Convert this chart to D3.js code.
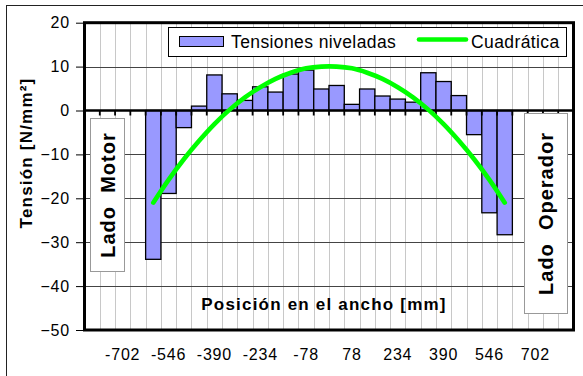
<!DOCTYPE html>
<html>
<head>
<meta charset="utf-8">
<script src="https://cdn.jsdelivr.net/npm/d3@7"></script>
<style>
	html, body { margin: 0; padding: 0; background: #fff; }
	svg { display: block; }
	text { font-family: "Liberation Sans", Arial, sans-serif; fill: #000; }
</style>
</head>
<body>
<div id="chart"></div>
<script>
// categorias del eje (centro de cada franja de 52 mm)
const posiciones = [-806, -754, -702, -650, -598, -546, -494, -442, -390, -338, -286, -234, -182, -130, -78, -26,
	26, 78, 130, 182, 234, 286, 338, 390, 442, 494, 546, 598, 650, 702, 754, 806]

// posiciones con medida
const posBarras = [-598, -546, -494, -442, -390, -338, -286, -234, -182, -130, -78, -26,
	26, 78, 130, 182, 234, 286, 338, 390, 442, 494, 546, 598]

const tensiones = [-33.9, -18.9, -3.9, 1.0, 8.1, 3.8, 2.3, 5.4, 4.2, 8.3, 9.2, 4.9,
	5.7, 1.4, 4.9, 3.3, 2.6, 1.9, 8.6, 6.6, 3.4, -5.5, -23.3, -28.3]

const cuadratica = [-21.0, -15.8, -11.1, -6.9, -3.1, 0.2, 3.0, 5.3, 7.2, 8.6, 9.6, 10.0,
	10.0, 9.6, 8.6, 7.2, 5.3, 3.0, 0.2, -3.1, -6.9, -11.1, -15.8, -21.0]

const etiquetasX = [-702, -546, -390, -234, -78, 78, 234, 390, 546, 702]
const ticksY = [20, 10, 0, -10, -20, -30, -40, -50]

const width = 583
const height = 376
const plot = {left: 84.5, right: 573.5, top: 22.7, bottom: 330}

const svg = d3.select('#chart').append('svg')
	.attr('width', width)
	.attr('height', height)

svg.append('rect').attr('width', width).attr('height', height).attr('fill', '#fff')

// marco exterior
svg.append('rect')
	.attr('x', 6.5).attr('y', 5.5)
	.attr('width', 600).attr('height', 400)
	.attr('fill', 'none').attr('stroke', '#222').attr('stroke-width', 1)

const x = d3.scaleBand()
	.domain(posiciones)
	.range([plot.left, plot.right])
	.paddingInner(0)
	.paddingOuter(0)

const y = d3.scaleLinear()
	.domain([-50, 20])
	.range([plot.bottom, plot.top])

const bw = x.bandwidth()

// rejilla vertical (limites de categoria)
svg.append('g')
	.selectAll('line')
	.data(posiciones.slice(1))
	.join('line')
	.attr('x1', d => Math.round(x(d)) + 0.5)
	.attr('x2', d => Math.round(x(d)) + 0.5)
	.attr('y1', plot.top)
	.attr('y2', plot.bottom)
	.attr('stroke', '#c8c8c8')
	.attr('stroke-width', 1)

// rejilla horizontal
svg.append('g')
	.selectAll('line')
	.data(ticksY.filter(d => d !== 20 && d !== -50 && d !== 0))
	.join('line')
	.attr('x1', plot.left)
	.attr('x2', plot.right)
	.attr('y1', d => Math.round(y(d)) + 0.5)
	.attr('y2', d => Math.round(y(d)) + 0.5)
	.attr('stroke', '#444')
	.attr('stroke-width', 1)

// barras
svg.append('g')
	.selectAll('rect')
	.data(tensiones)
	.join('rect')
	.attr('x', (d, i) => x(posBarras[i]))
	.attr('width', bw)
	.attr('y', d => y(Math.max(0, d)))
	.attr('height', d => Math.abs(y(d) - y(0)))
	.attr('fill', '#9999ff')
	.attr('stroke', '#000')
	.attr('stroke-width', 1.3)

// eje de categorias en 0 con marcas
svg.append('g')
	.selectAll('line')
	.data(posiciones.slice(1))
	.join('line')
	.attr('x1', d => x(d))
	.attr('x2', d => x(d))
	.attr('y1', y(0))
	.attr('y2', y(0) + 5)
	.attr('stroke', '#000')
	.attr('stroke-width', 1.8)

svg.append('line')
	.attr('x1', plot.left).attr('x2', plot.right)
	.attr('y1', y(0)).attr('y2', y(0))
	.attr('stroke', '#000').attr('stroke-width', 2.6)

// curva cuadratica
const linea = d3.line()
	.x((d, i) => x(posBarras[i]) + bw / 2)
	.y(d => y(d))
	.curve(d3.curveCatmullRom)

svg.append('path')
	.datum(cuadratica)
	.attr('d', linea)
	.attr('fill', 'none')
	.attr('stroke', '#00ff00')
	.attr('stroke-width', 4.6)
	.attr('stroke-linecap', 'round')

// cajas de texto laterales
const cajas = [
	{texto: 'Lado  Motor', x: 90.5, y: 118.5, w: 34, h: 153},
	{texto: 'Lado  Operador', x: 524.5, y: 113.5, w: 43, h: 200},
]

const caja = svg.append('g')
	.selectAll('g')
	.data(cajas)
	.join('g')

caja.append('rect')
	.attr('x', d => d.x).attr('y', d => d.y)
	.attr('width', d => d.w).attr('height', d => d.h)
	.attr('fill', '#fff')
	.attr('stroke', '#999')
	.attr('stroke-width', 1)

caja.append('text')
	.attr('transform', d => `translate(${d.x + d.w / 2 + 7},${d.y + d.h / 2}) rotate(-90)`)
	.attr('text-anchor', 'middle')
	.style('white-space', 'pre')
	.attr('font-size', 20)
	.attr('font-weight', 'bold')
	.attr('letter-spacing', 1)
	.text(d => d.texto)

// titulo del eje x dentro del grafico
svg.append('text')
	.attr('x', 324)
	.attr('y', 310)
	.attr('text-anchor', 'middle')
	.attr('font-size', 17)
	.attr('font-weight', 'bold')
	.attr('letter-spacing', 1.2)
	.text('Posición en el ancho [mm]')

// leyenda
const leyenda = svg.append('g')
leyenda.append('rect')
	.attr('x', 168.5).attr('y', 27.5)
	.attr('width', 398).attr('height', 29)
	.attr('fill', '#fff').attr('stroke', '#000').attr('stroke-width', 1)
leyenda.append('rect')
	.attr('x', 179.5).attr('y', 36.5)
	.attr('width', 44).attr('height', 10)
	.attr('fill', '#9999ff').attr('stroke', '#000').attr('stroke-width', 1)
leyenda.append('text')
	.attr('x', 231).attr('y', 47.5)
	.attr('font-size', 17.5)
	.attr('letter-spacing', 0.4)
	.text('Tensiones niveladas')
leyenda.append('line')
	.attr('x1', 419).attr('x2', 466)
	.attr('y1', 39.5).attr('y2', 39.5)
	.attr('stroke', '#00ff00').attr('stroke-width', 4.6)
	.attr('stroke-linecap', 'round')
leyenda.append('text')
	.attr('x', 471).attr('y', 47.5)
	.attr('font-size', 17.5)
	.attr('letter-spacing', 0.4)
	.text('Cuadrática')

// marco del area de trazado
svg.append('rect')
	.attr('x', plot.left).attr('y', plot.top)
	.attr('width', plot.right - plot.left)
	.attr('height', plot.bottom - plot.top)
	.attr('fill', 'none')
	.attr('stroke', '#000')
	.attr('stroke-width', 3)

// eje y
const ejeY = svg.append('g')
	.attr('transform', `translate(${plot.left - 1.5},0)`)
	.call(d3.axisLeft(y).tickValues(ticksY).tickSize(7).tickPadding(6))
ejeY.select('.domain').remove()
ejeY.selectAll('.tick line').attr('stroke', '#000').attr('stroke-width', 1)
ejeY.selectAll('.tick text')
	.attr('font-size', 16)
	.attr('font-family', '"Liberation Sans", Arial, sans-serif')
	.attr('letter-spacing', 0.8)

// etiquetas del eje x (bajo el grafico)
const ejeX = svg.append('g')
	.attr('transform', `translate(${bw / 2 - x.bandwidth() / 2},${plot.bottom})`)
	.call(d3.axisBottom(x).tickValues(etiquetasX).tickSize(0).tickPadding(18.6))
ejeX.select('.domain').remove()
ejeX.selectAll('.tick text')
	.attr('font-size', 16)
	.attr('font-family', '"Liberation Sans", Arial, sans-serif')
	.attr('letter-spacing', 0.8)

// titulo del eje y
svg.append('text')
	.attr('transform', 'translate(32,153) rotate(-90)')
	.attr('text-anchor', 'middle')
	.attr('font-size', 17)
	.attr('font-weight', 'bold')
	.attr('letter-spacing', 1.2)
	.text('Tensión [N/mm²]')
</script>
</body>
</html>
